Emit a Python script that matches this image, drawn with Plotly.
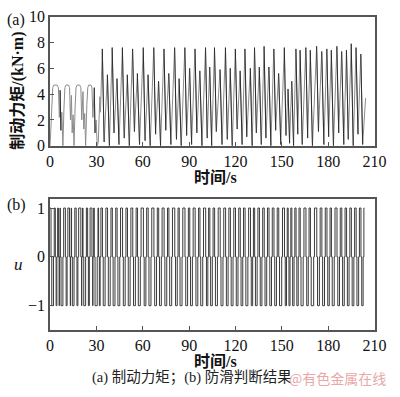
import plotly.graph_objects as go

# ---------------- data ----------------
# (a) braking torque, kN·m — breakpoints of the trace (time s, value)
torque_t = [0.0, 0.9, 1.7, 2.4, 4.6, 5.4, 6.0, 6.5, 7.0, 7.6, 8.3,
            9.0, 9.6, 10.3, 12.0, 12.6, 13.2, 13.8, 14.3, 14.9, 15.5,
            16.2, 16.8, 17.5, 19.2, 19.9, 20.5, 21.3, 21.8, 22.4, 23.0,
            23.8, 24.4, 25.0, 26.5, 27.1, 27.7, 28.6, 29.1, 29.8, 30.5,
            31.2, 32.2, 32.6,
            33.8, 35.0, 37.1, 38.4, 40.2, 41.4, 43.3, 44.6, 46.8, 48.0,
            50.0, 51.3, 53.4, 54.6, 56.5, 57.9, 60.3, 61.5, 63.4, 64.8,
            67.1, 68.3, 70.2, 71.5, 73.7, 74.9, 76.8, 78.2, 80.6, 81.8,
            83.5, 84.9, 87.2, 88.4, 90.3, 91.6, 93.8, 95.0, 96.9, 98.3,
            100.6, 101.7, 103.3, 104.6, 106.4, 107.6, 110.0, 111.3, 113.5, 114.7,
            116.6, 117.9, 119.9, 121.1, 123.0, 124.3, 126.1, 127.3, 129.6, 130.8,
            132.3, 133.5, 135.4, 136.7, 138.5, 139.7, 141.6, 142.9, 144.8, 146.0,
            147.9, 149.3, 151.6, 152.7, 154.0, 155.0, 156.4, 157.6, 159.1, 160.3,
            161.8, 163.2, 165.5, 166.7, 168.4, 169.8, 172.5, 173.7, 175.8, 177.2,
            179.1, 180.3, 182.0, 183.4, 185.6, 186.8, 188.7, 190.1, 191.8, 193.0,
            194.9, 196.2, 198.0, 199.3, 201.1, 202.3, 204.2]
torque_v = [0.0, 3.2, 4.5, 4.7, 4.7, 4.5, 2.2, 4.3, 1.2, 2.6, 0.0,
            3.0, 4.5, 4.7, 4.7, 4.5, 2.0, 3.9, 1.0, 2.4, 0.0,
            3.0, 4.5, 4.7, 4.7, 4.5, 2.0, 4.2, 1.3, 2.5, 0.0,
            3.2, 4.5, 4.7, 4.7, 4.5, 2.2, 4.5, 1.0, 2.0, 0.0,
            0.3, 3.8, 2.6,
            7.5, 0.3, 5.5, 0.0, 7.6, 1.0, 5.2, 0.1, 7.6, 0.6,
            5.5, 0.0, 7.5, 1.1, 5.6, 0.1, 7.6, 0.4, 5.5, 0.0,
            7.6, 0.9, 5.0, 0.0, 7.5, 1.2, 5.6, 0.1, 7.6, 0.5,
            5.2, 0.0, 7.6, 0.8, 6.0, 0.1, 7.5, 1.0, 5.8, 0.0,
            7.6, 0.6, 6.1, 0.0, 7.6, 1.1, 5.9, 0.1, 7.6, 0.5,
            6.0, 0.0, 7.5, 1.3, 5.8, 0.1, 7.5, 0.7, 6.0, 0.0,
            7.6, 1.0, 6.1, 0.1, 7.7, 0.6, 6.1, 0.0, 7.5, 1.2,
            5.6, 0.1, 7.6, 0.8, 4.4, 0.2, 5.0, 0.0, 7.5, 0.9,
            7.4, 0.1, 7.6, 0.6, 7.4, 0.0, 7.7, 1.1, 7.3, 0.1,
            7.5, 0.7, 7.4, 0.0, 7.7, 1.0, 7.3, 0.1, 7.4, 0.5,
            7.9, 0.0, 7.6, 0.9, 7.1, 0.1, 3.7]

# (b) anti-skid decision u: times of 1 -> -1 switches and -1 -> 1 switches
u_down_t = [0.6, 3.4, 5.4, 6.6, 9.9, 12.6, 13.9, 16.9, 19.9, 21.3, 24.3, 27.1, 28.6, 31.4,
            33.9, 37.2, 40.3, 43.4, 46.9, 50.1, 53.5, 56.6, 60.4, 63.5,
            67.2, 70.3, 73.8, 76.9, 80.7, 83.6, 87.3, 90.4, 93.9, 97.0,
            100.7, 103.4, 106.5, 110.1, 113.6, 116.7, 120.0, 123.1, 126.2, 129.7,
            132.4, 135.5, 138.6, 141.7, 144.9, 148.0, 151.7, 154.1, 156.5, 159.2,
            161.9, 165.6, 168.5, 172.6, 175.9, 179.2, 182.1, 185.7, 188.8, 191.9,
            195.0, 198.1, 201.2]
u_up_t = [2.2, 4.4, 6.0, 8.3, 11.0, 13.2, 15.5, 18.0, 20.5, 23.0, 25.4, 27.7, 30.5, 32.4,
          35.6, 38.9, 42.0, 45.1, 48.6, 51.8, 55.2, 58.4, 62.0, 65.3,
          68.9, 72.0, 75.5, 78.7, 82.3, 85.4, 89.0, 92.1, 95.6, 98.8,
          102.1, 105.0, 108.3, 111.9, 115.2, 118.4, 121.6, 124.7, 128.0, 131.1,
          134.0, 137.1, 140.2, 143.3, 146.5, 149.9, 153.0, 155.3, 157.9, 160.6,
          163.8, 167.1, 170.6, 174.3, 177.6, 180.7, 183.9, 187.3, 190.4, 193.5,
          196.6, 199.7, 202.6]
u_end_t = 203.4
zero_hold = 0.5

x_ticks = [0, 30, 60, 90, 120, 150, 180, 210]
ya_ticks = [0, 2, 4, 6, 8, 10]
yb_ticks = [-1, 0, 1]

# build the step path of u
events = [(d, 0) for d in u_down_t] + [(d + zero_hold, -1) for d in u_down_t] \
       + [(u, 0) for u in u_up_t] + [(u + zero_hold, 1) for u in u_up_t]
events.sort()
u_t = [0.0] + [e[0] for e in events] + [u_end_t]
u_v = [1] + [e[1] for e in events] + [events[-1][1]]

# steep falling edges of the torque trace are drawn darker (as in the print)
fall_x, fall_y = [], []
for i in range(len(torque_t) - 1):
    if torque_v[i] > 4.0 and torque_v[i + 1] < torque_v[i] - 3.0:
        fall_x += [torque_t[i], torque_t[i + 1], None]
        fall_y += [torque_v[i], torque_v[i + 1], None]

# ---------------- figure ----------------
W, H = 400, 397
def px(x): return x / W
def py(y): return 1 - y / H

SERIF = "Times New Roman, Liberation Serif, serif"
CJK = "Times New Roman, Liberation Serif, Noto Sans CJK SC, sans-serif"
FRAME = "#555555"

fig = go.Figure()
fig.add_trace(go.Scatter(x=torque_t, y=torque_v, mode="lines",
                         line=dict(color="#8c8c8c", width=1.0),
                         xaxis="x", yaxis="y", showlegend=False))
fig.add_trace(go.Scatter(x=fall_x, y=fall_y, mode="lines",
                         line=dict(color="#222222", width=0.9),
                         xaxis="x", yaxis="y", showlegend=False))
fig.add_trace(go.Scatter(x=u_t, y=u_v, mode="lines",
                         line=dict(color="#3a3a3a", width=1.0, shape="hv"),
                         xaxis="x2", yaxis="y2", showlegend=False))

axis_common = dict(showline=True, linecolor=FRAME, linewidth=1.6, mirror=True,
                   ticks="inside", ticklen=4, tickcolor=FRAME, tickwidth=1,
                   showgrid=False, zeroline=False,
                   tickfont=dict(family=SERIF, size=16, color="#111"))

fig.update_layout(
    width=W, height=H, margin=dict(l=0, r=0, t=0, b=0),
    paper_bgcolor="white", plot_bgcolor="white",
    xaxis=dict(domain=[px(48), px(386)], range=[0, 210], tickvals=x_ticks,
               anchor="y", **axis_common),
    yaxis=dict(domain=[py(144), py(9)], range=[0, 10], tickvals=ya_ticks,
               anchor="x", **axis_common),
    xaxis2=dict(domain=[px(48), px(386)], range=[0, 210], tickvals=x_ticks,
                anchor="y2", **axis_common),
    yaxis2=dict(domain=[py(336), py(200)], range=[-1.49, 1.176], tickvals=yb_ticks,
                anchor="x2", **axis_common),
)

ann = [
    dict(text="(a)", x=px(13), y=py(13), font=dict(family=SERIF, size=16, color="#111")),
    dict(text="(b)", x=px(13), y=py(206), font=dict(family=SERIF, size=16, color="#111")),
    dict(text="<b>制动力矩/(kN·m)</b>", x=px(15), y=py(86), textangle=-90,
         font=dict(family=CJK, size=16, color="#111")),
    dict(text="<i>u</i>", x=px(15), y=py(268),
         font=dict(family=SERIF, size=17, color="#111")),
    dict(text="<b>时间/s</b>", x=px(220), y=py(177),
         font=dict(family=CJK, size=16, color="#111")),
    dict(text="<b>时间/s</b>", x=px(220), y=py(369),
         font=dict(family=CJK, size=16, color="#111")),
    dict(text="(a) 制动力矩；(b) 防滑判断结果", x=px(196), y=py(386),
         font=dict(family=CJK, size=14.5, color="#222")),
    dict(text="@有色金属在线", x=px(347), y=py(387),
         font=dict(family="Noto Sans CJK SC, sans-serif", size=14, color="#e8a8a8")),
]
for a in ann:
    a.update(xref="paper", yref="paper", showarrow=False, xanchor="center", yanchor="middle")
    fig.add_annotation(**a)

fig.write_html("out.html", config={"displayModeBar": False},
               post_script="document.body.style.margin='0';")
